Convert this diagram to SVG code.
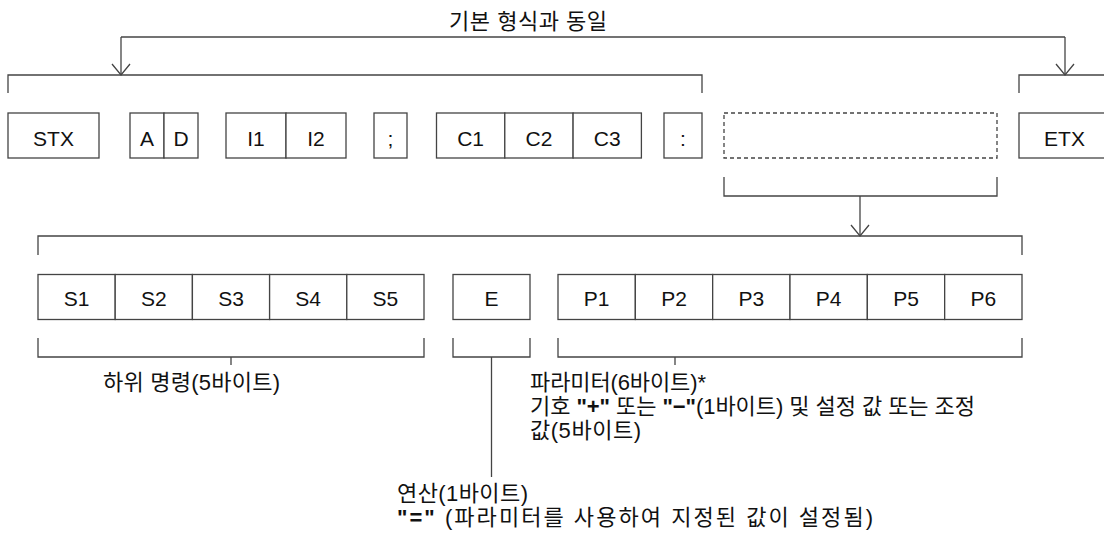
<svg xmlns="http://www.w3.org/2000/svg" width="1104" height="538" viewBox="0 0 1104 538">
<defs>
<style>
.bx{fill:#fff;stroke:#444;stroke-width:1.3}
.dash{fill:#fff;stroke:#444;stroke-width:1.3;stroke-dasharray:4 3}
.lbl{font-family:"Liberation Sans",Arial,sans-serif;font-size:21px;fill:#111;text-anchor:middle}
.kt{font-family:"Liberation Sans","Noto Sans CJK KR",sans-serif;font-size:22px;fill:#111}
.b{font-weight:bold}
.ln{fill:none;stroke:#444;stroke-width:1.3}
</style>
<marker id="v" markerUnits="userSpaceOnUse" markerWidth="24" markerHeight="24" refX="0" refY="0" orient="auto" overflow="visible">
<path d="M-11,-9 L0,0 L-11,9" fill="none" stroke="#444" stroke-width="1.3"/>
</marker>
</defs>
<rect width="1104" height="538" fill="#fff"/>
<text class="kt" x="449" y="29" textLength="158" lengthAdjust="spacing">기본 형식과 동일</text>
<g id="connectors">
<path class="ln" d="M121,37 H1065"/>
<path class="ln" d="M121,37 V75" marker-end="url(#v)"/>
<path class="ln" d="M1065,37 V75" marker-end="url(#v)"/>
<path class="ln" d="M8,93 V75 H702 V93"/>
<path class="ln" d="M1019,93 V75 H1110 V93"/>
<path class="ln" d="M724,177 V196 H997 V177"/>
<path class="ln" d="M860,196 V236" marker-end="url(#v)"/>
<path class="ln" d="M38,255 V236 H1022 V255"/>
<path class="ln" d="M38,338 V357 H424 V338"/>
<path class="ln" d="M231,357 V365"/>
<path class="ln" d="M453,338 V357 H530 V338"/>
<path class="ln" d="M491.5,357 V477"/>
<path class="ln" d="M558,338 V357 H1022 V338"/>
<path class="ln" d="M675,357 V365"/>
</g>
<g id="stx"><rect class="bx" x="8" y="113" width="91" height="45"/><text class="lbl" x="53.5" y="145.5">STX</text></g>
<g id="ad"><rect class="bx" x="130" y="113" width="34" height="45"/><rect class="bx" x="164" y="113" width="34" height="45"/><text class="lbl" x="147" y="145.5">A</text><text class="lbl" x="181" y="145.5">D</text></g>
<g id="i"><rect class="bx" x="226" y="113" width="60" height="45"/><rect class="bx" x="286" y="113" width="60" height="45"/><text class="lbl" x="256" y="145.5">I1</text><text class="lbl" x="316" y="145.5">I2</text></g>
<g id="semi"><rect class="bx" x="374" y="113" width="33" height="45"/><text class="lbl" x="390.5" y="145.5">;</text></g>
<g id="c"><rect class="bx" x="436.5" y="113" width="68.3" height="45"/><rect class="bx" x="504.8" y="113" width="68.3" height="45"/><rect class="bx" x="573.1" y="113" width="68.3" height="45"/><text class="lbl" x="470.6" y="145.5">C1</text><text class="lbl" x="539" y="145.5">C2</text><text class="lbl" x="607.3" y="145.5">C3</text></g>
<g id="colon"><rect class="bx" x="664" y="113" width="38" height="45"/><text class="lbl" x="683" y="145.5">:</text></g>
<g id="param"><rect class="dash" x="724" y="113" width="273" height="45"/></g>
<g id="etx"><rect class="bx" x="1019" y="113" width="91" height="45"/><text class="lbl" x="1064.5" y="145.5">ETX</text></g>
<g id="s"><rect class="bx" x="38" y="274.5" width="77.2" height="45"/><rect class="bx" x="115.2" y="274.5" width="77.2" height="45"/><rect class="bx" x="192.4" y="274.5" width="77.2" height="45"/><rect class="bx" x="269.6" y="274.5" width="77.2" height="45"/><rect class="bx" x="346.8" y="274.5" width="77.2" height="45"/>
<text class="lbl" x="76.6" y="306">S1</text><text class="lbl" x="153.8" y="306">S2</text><text class="lbl" x="231" y="306">S3</text><text class="lbl" x="308.2" y="306">S4</text><text class="lbl" x="385.4" y="306">S5</text></g>
<g id="e"><rect class="bx" x="453" y="274.5" width="77" height="45"/><text class="lbl" x="491.5" y="306">E</text></g>
<g id="p"><rect class="bx" x="558" y="274.5" width="77.33" height="45"/><rect class="bx" x="635.33" y="274.5" width="77.33" height="45"/><rect class="bx" x="712.67" y="274.5" width="77.33" height="45"/><rect class="bx" x="790" y="274.5" width="77.33" height="45"/><rect class="bx" x="867.33" y="274.5" width="77.33" height="45"/><rect class="bx" x="944.67" y="274.5" width="77.33" height="45"/>
<text class="lbl" x="596.7" y="306">P1</text><text class="lbl" x="674" y="306">P2</text><text class="lbl" x="751.3" y="306">P3</text><text class="lbl" x="828.7" y="306">P4</text><text class="lbl" x="906" y="306">P5</text><text class="lbl" x="983.3" y="306">P6</text></g>
<text class="kt" x="103" y="390" textLength="177" lengthAdjust="spacing">하위 명령(5바이트)</text>
<text class="kt" x="530" y="390" textLength="176" lengthAdjust="spacing">파라미터(6바이트)*</text>
<text class="kt" x="530" y="414" textLength="445" lengthAdjust="spacing">기호 <tspan class="b">"+"</tspan> 또는 <tspan class="b">"−"</tspan>(1바이트) 및 설정 값 또는 조정</text>
<text class="kt" x="530" y="438" textLength="111" lengthAdjust="spacing">값(5바이트)</text>
<text class="kt" x="397" y="501" textLength="131" lengthAdjust="spacing">연산(1바이트)</text>
<text class="kt" x="397" y="525" textLength="476" lengthAdjust="spacing"><tspan class="b">"="</tspan> (파라미터를 사용하여 지정된 값이 설정됨)</text>
</svg>
